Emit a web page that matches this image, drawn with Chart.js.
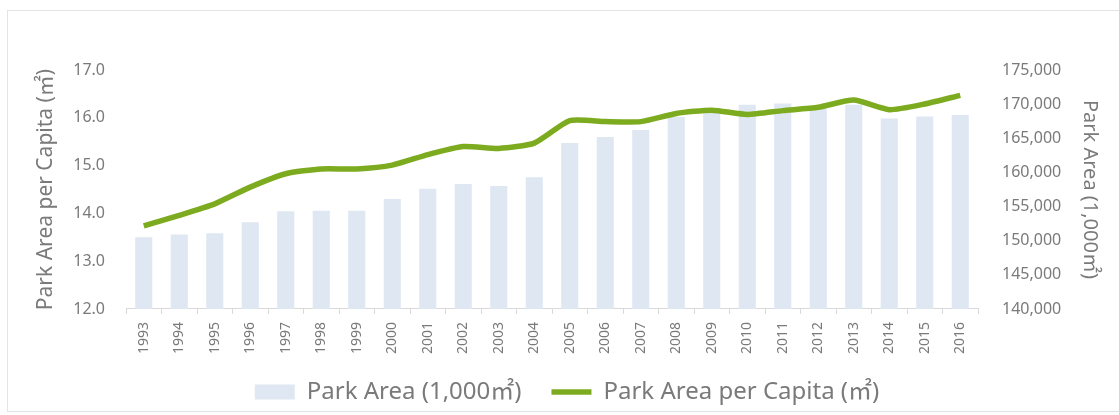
<!DOCTYPE html>
<html>
<head>
<meta charset="utf-8">
<script src="https://cdn.jsdelivr.net/npm/chart.js@4/dist/chart.umd.min.js"></script>
<style>
  html, body { margin: 0; padding: 0; background: #fff; }
  #wrap { position: relative; width: 1119px; height: 415px; }
  #frame { position: absolute; left: 7px; top: 10px; width: 1120px; height: 402px; border: 1px solid #e4e4e4; box-sizing: border-box; }
  canvas { position: absolute; left: 0; top: 0; }
</style>
</head>
<body>
<div id="wrap">
  <div id="frame"></div>
  <canvas id="parkChart" width="1119" height="415"></canvas>
</div>
<script>
// data
const years = ['1993', '1994', '1995', '1996', '1997', '1998', '1999', '2000', '2001', '2002', '2003', '2004',
               '2005', '2006', '2007', '2008', '2009', '2010', '2011', '2012', '2013', '2014', '2015', '2016'];

// Park Area (1,000㎡) - bars, right axis
const parkArea = [150500, 150900, 151100, 152700, 154300, 154400, 154400, 156100, 157600, 158300, 158000, 159300,
                  164300, 165200, 166200, 168100, 168700, 169900, 170100, 169400, 169900, 167900, 168200, 168400];

// Park Area per Capita (㎡) - line, left axis
const perCapita = [13.74, 13.96, 14.20, 14.55, 14.83, 14.93, 14.93, 15.01, 15.23, 15.40, 15.36, 15.47,
                   15.94, 15.92, 15.92, 16.09, 16.16, 16.07, 16.15, 16.22, 16.37, 16.17, 16.29, 16.47];

const leftTicks = [12, 13, 14, 15, 16, 17];
const rightTicks = [140000, 145000, 150000, 155000, 160000, 165000, 170000, 175000];

const FONT = "'Noto Sans', 'Noto Sans CJK KR', sans-serif";
const TEXT = '#7a7a7a';

new Chart(document.getElementById('parkChart'), {
    data: {
        labels: years,
        datasets: [
            {
                type: 'line',
                label: 'Park Area per Capita (㎡)',
                data: perCapita,
                yAxisID: 'y',
                borderColor: '#7cab1f',
                backgroundColor: '#7cab1f',
                borderWidth: 5.5,
                pointRadius: 0,
                pointStyle: 'line',
                tension: 0.2,
                order: 1
            },
            {
                type: 'bar',
                label: 'Park Area (1,000㎡)',
                data: parkArea,
                yAxisID: 'y1',
                backgroundColor: '#dfe7f2',
                borderWidth: 0,
                pointStyle: 'rect',
                categoryPercentage: 1,
                barPercentage: 0.48,
                order: 2
            }
        ]
    },
    options: {
        responsive: false,
        animation: false,
        layout: { padding: { left: 20, right: 5, top: 70, bottom: 1 } },
        scales: {
            x: {
                grid: { display: true, drawOnChartArea: false, drawTicks: true, tickLength: 5, color: '#d9d9d9' },
                border: { display: true, color: '#d9d9d9' },
                ticks: { color: TEXT, font: { family: FONT, size: 14 }, minRotation: 90, maxRotation: 90, padding: 8 }
            },
            y: {
                position: 'left',
                min: leftTicks[0],
                max: leftTicks[leftTicks.length - 1],
                afterBuildTicks: (axis) => { axis.ticks = leftTicks.map(v => ({ value: v })); },
                afterFit: (axis) => { axis.width = 106; },
                grid: { display: false, drawTicks: false },
                border: { display: false },
                ticks: { color: TEXT, font: { family: FONT, size: 16 }, padding: 21,
                         callback: (v) => Number(v).toFixed(1) },
                title: { display: true, text: 'Park Area per Capita (㎡)', color: TEXT,
                         font: { family: FONT, size: 21 }, padding: { top: 13, bottom: 0 } }
            },
            y1: {
                position: 'right',
                min: rightTicks[0],
                max: rightTicks[rightTicks.length - 1],
                afterBuildTicks: (axis) => { axis.ticks = rightTicks.map(v => ({ value: v })); },
                afterFit: (axis) => { axis.width = 136; },
                grid: { display: false, drawTicks: false },
                border: { display: false },
                ticks: { color: TEXT, font: { family: FONT, size: 16 }, padding: 24,
                         callback: (v) => Number(v).toLocaleString('en-US') },
                title: { display: true, text: 'Park Area (1,000㎡)', color: TEXT,
                         font: { family: FONT, size: 20 }, padding: { top: 12, bottom: 0 } }
            }
        },
        plugins: {
            legend: {
                position: 'bottom',
                reverse: true,
                labels: {
                    color: TEXT,
                    font: { family: FONT, size: 24 },
                    usePointStyle: true,
                    pointStyleWidth: 40,
                    boxHeight: 15,
                    padding: 18,
                    generateLabels: (chart) => {
                        const items = Chart.defaults.plugins.legend.labels.generateLabels(chart);
                        // a little extra room after the bar entry, as in the picture
                        items.forEach(it => { if (it.datasetIndex === 1) it.text += '\u2002'; });
                        return items;
                    }
                }
            },
            tooltip: { enabled: false }
        }
    }
});
</script>
</body>
</html>
